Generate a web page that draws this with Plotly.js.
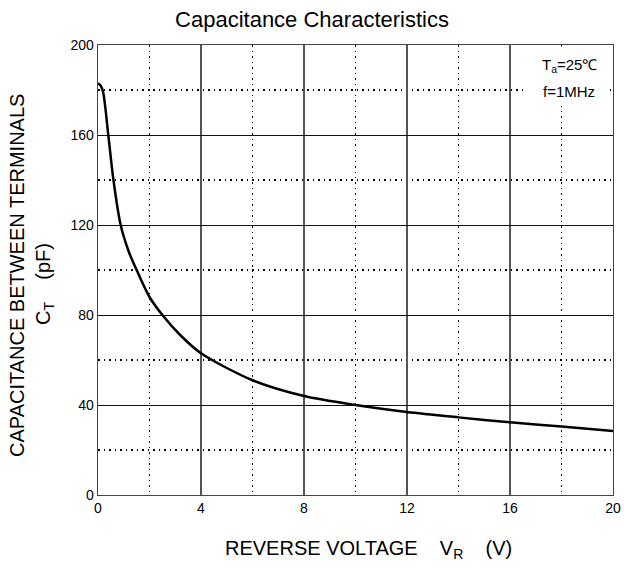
<!DOCTYPE html>
<html>
<head>
<meta charset="utf-8">
<script src="https://cdn.plot.ly/plotly-3.0.1.min.js"></script>
<style>html,body{margin:0;padding:0;background:#fff;}#chart{width:624px;height:579px;}</style>
</head>
<body>
<div id="chart"></div>
<script>
// Reverse voltage (V)
const voltage = [0, 0.1, 0.2, 0.4, 0.6, 0.88, 1.2, 1.5, 2, 2.5, 3.2, 4, 6, 8, 10, 12, 14, 16, 18, 20];
// Capacitance between terminals (pF)
const capacitance = [183, 182, 179, 160, 140, 120, 108, 100, 88, 80, 71, 63, 51, 44, 40, 36.9, 34.5, 32.3, 30.4, 28.4];
// Axis ticks
const xTickStep = 4, xMinorStep = 2, xRange = [0, 20];
const yTickStep = 40, yMinorStep = 20, yRange = [0, 200];

const FONT = "Arial, 'Liberation Sans', sans-serif";

const trace = {
  x: voltage, y: capacitance, type: 'scatter', mode: 'lines',
  line: {color: '#000', width: 2.5, shape: 'spline', smoothing: 0.8},
  hoverinfo: 'skip'
};

const px = v => (v - 98) / 515;
const py = v => (495 - v) / 450;

const layout = {
  width: 624, height: 579,
  margin: {l: 98, r: 11, t: 45, b: 84},
  paper_bgcolor: '#fff', plot_bgcolor: '#fff',
  showlegend: false,
  font: {family: FONT, color: '#000', size: 13},
  title: {text: 'Capacitance Characteristics', font: {family: FONT, size: 22, color: '#000'},
          x: 0.5, xref: 'container', y: 1 - 19/579, yref: 'container', yanchor: 'middle'},
  xaxis: {
    range: xRange, tickmode: 'linear', tick0: 0, dtick: xTickStep, ticks: '',
    showgrid: true, gridcolor: '#555', gridwidth: 1.3,
    minor: {dtick: xMinorStep, tick0: 0, showgrid: true, gridcolor: '#000', griddash: '1.5px,4px', gridwidth: 1.2},
    showline: true, linecolor: '#444', linewidth: 1.3, mirror: true, zeroline: false,
    tickfont: {family: FONT, size: 14, color: '#000'}, fixedrange: true
  },
  yaxis: {
    range: yRange, tickmode: 'linear', tick0: 0, dtick: yTickStep, ticks: '',
    showgrid: true, gridcolor: '#111', gridwidth: 1,
    minor: {dtick: yMinorStep, tick0: 0, showgrid: true, gridcolor: '#000', griddash: '1.5px,4px', gridwidth: 1.2},
    showline: true, linecolor: '#444', linewidth: 1.3, mirror: true, zeroline: false,
    tickfont: {family: FONT, size: 14, color: '#000'}, fixedrange: true
  },
  shapes: [
    {type: 'rect', xref: 'paper', yref: 'paper', x0: px(524), x1: px(607), y0: py(103), y1: py(46.5),
     fillcolor: '#fff', line: {width: 0}, layer: 'above'}
  ],
  annotations: [
    {text: 'T<sub>a</sub>=25℃', xref: 'paper', yref: 'paper',
     x: px(569), y: py(66), xanchor: 'center', yanchor: 'middle',
     showarrow: false, font: {family: FONT, size: 15, color: '#000'}},
    {text: 'f=1MHz', xref: 'paper', yref: 'paper',
     x: px(569), y: py(91), xanchor: 'center', yanchor: 'middle',
     showarrow: false, font: {family: FONT, size: 15, color: '#000'}},
    {text: 'CAPACITANCE BETWEEN TERMINALS', xref: 'paper', yref: 'paper',
     x: px(17), y: py(276), xanchor: 'center', yanchor: 'middle',
     textangle: -90, showarrow: false, font: {family: FONT, size: 20, color: '#000'}},
    {text: 'C<sub>T</sub>    (pF)', xref: 'paper', yref: 'paper',
     x: px(44), y: py(284), xanchor: 'center', yanchor: 'middle',
     textangle: -90, showarrow: false, font: {family: FONT, size: 20, color: '#000'}},
    {text: 'REVERSE VOLTAGE    V<sub>R</sub>    (V)', xref: 'paper', yref: 'paper',
     x: px(368), y: py(549), xanchor: 'center', yanchor: 'middle',
     showarrow: false, font: {family: FONT, size: 20, color: '#000'}}
  ]
};

Plotly.newPlot('chart', [trace], layout, {displayModeBar: false, staticPlot: true});
</script>
</body>
</html>
